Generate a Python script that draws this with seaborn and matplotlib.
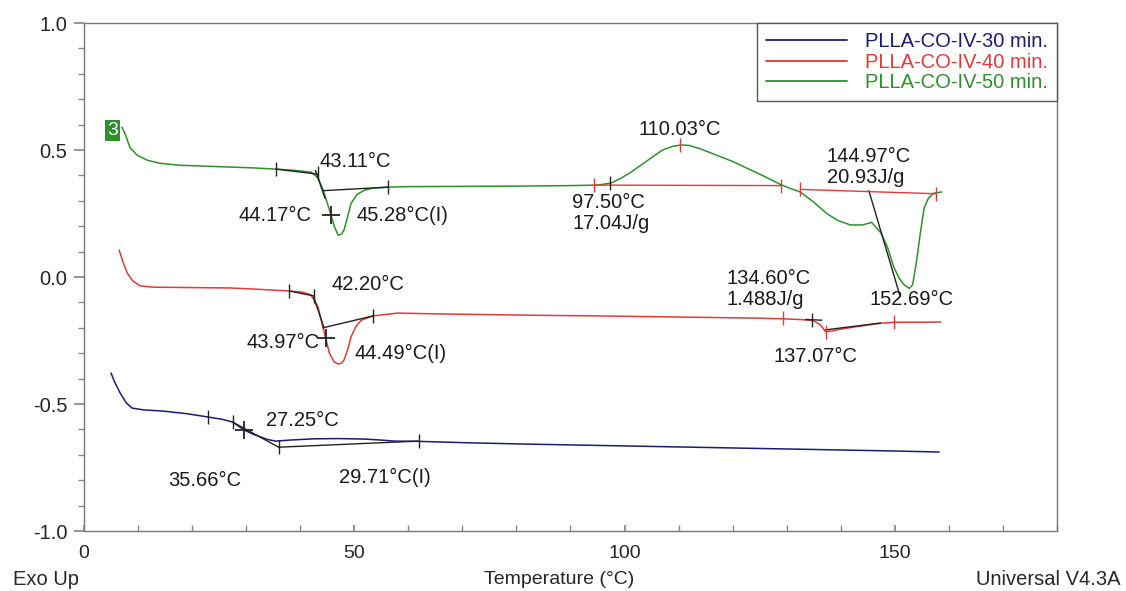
import numpy as np
import pandas as pd
import matplotlib
matplotlib.use('Agg')
import matplotlib.pyplot as plt
import seaborn as sns
from matplotlib.ticker import MultipleLocator
from matplotlib.lines import Line2D

sns.set_theme(style='white')
plt.rcParams['font.family'] = ['Liberation Sans', 'DejaVu Sans']

BLUE = '#1c1c6e'
RED = '#e03a3a'
GREEN = '#2f8f2f'
DARK = '#222222'

# ── Curve data ─────────────────────────────────────────────────────────────────
t50 = [7.0, 7.5, 8.5, 9.8, 11.7, 14, 17.8, 22, 27, 31, 35.5, 39, 42, 43.3, 44.2,
       45.4, 46.3, 47.0, 47.6, 48.1, 48.8, 49.4, 50.5, 51.9, 53.5, 56.3, 60, 70,
       80, 90, 95, 97.5, 99, 101, 103, 105, 107, 109, 110.5, 112, 114, 117, 120,
       123, 126, 128.8, 130.5, 132.5, 135, 137.4, 139.5, 141.8, 144, 145.7,
       147.4, 148.6, 149.8, 150.8, 151.7, 152.7, 153.3, 154, 154.7, 155.4,
       156.2, 157.2, 158.7]
hf50 = [0.59, 0.57, 0.51, 0.48, 0.46, 0.448, 0.44, 0.437, 0.433, 0.43, 0.425,
        0.42, 0.413, 0.39, 0.345, 0.265, 0.20, 0.165, 0.168, 0.185, 0.24, 0.29,
        0.325, 0.342, 0.35, 0.354, 0.356, 0.357, 0.358, 0.36, 0.362, 0.37, 0.385,
        0.41, 0.44, 0.47, 0.50, 0.515, 0.52, 0.518, 0.505, 0.48, 0.455, 0.425,
        0.395, 0.365, 0.35, 0.335, 0.295, 0.25, 0.222, 0.205, 0.205, 0.215,
        0.175, 0.12, 0.04, -0.005, -0.03, -0.045, -0.03, 0.06, 0.17, 0.27,
        0.31, 0.33, 0.335]

t40 = [6.5, 7.2, 8.0, 9.0, 10.4, 13, 17.8, 22, 27, 32, 38, 40.5, 42, 43.3, 44.2,
       45.4, 46.3, 47.0, 47.6, 48.1, 48.8, 49.4, 50.3, 51.3, 53.5, 58, 65, 75,
       85, 95, 105, 115, 125, 130, 133, 135, 136.3, 137.2, 138.5, 140, 143,
       147.4, 150, 155, 158.5]
hf40 = [0.106, 0.06, 0.016, -0.015, -0.035, -0.04, -0.041, -0.042, -0.043,
        -0.048, -0.055, -0.06, -0.07, -0.118, -0.197, -0.30, -0.335, -0.342,
        -0.34, -0.327, -0.285, -0.236, -0.195, -0.17, -0.153, -0.142, -0.145,
        -0.148, -0.151, -0.153, -0.156, -0.159, -0.162, -0.165, -0.168, -0.172,
        -0.19, -0.215, -0.212, -0.205, -0.195, -0.182, -0.178, -0.178, -0.177]

t30 = [5.0, 5.6, 6.7, 7.8, 8.9, 11, 14.7, 19, 22.9, 25.5, 27.5, 29.6, 31.2,
       32.7, 34, 35.5, 38, 42.6, 47, 51.9, 55, 57.4, 61.9, 70, 80, 90, 100,
       110, 120, 130, 140, 150, 158.2]
hf30 = [-0.378, -0.41, -0.457, -0.495, -0.516, -0.523, -0.528, -0.538, -0.551,
        -0.56, -0.571, -0.602, -0.618, -0.63, -0.64, -0.646, -0.642, -0.637,
        -0.636, -0.638, -0.642, -0.646, -0.647, -0.652, -0.657, -0.661, -0.665,
        -0.669, -0.673, -0.677, -0.681, -0.685, -0.689]

SAMPLES = ['PLLA-CO-IV-30 min.', 'PLLA-CO-IV-40 min.', 'PLLA-CO-IV-50 min.']

# analysis construction lines (tangents / baselines)
tangents_dark = [
    ([35.5, 43.3], [0.425, 0.405]), ([42.8, 44.6], [0.42, 0.31]),
    ([44.2, 56.3], [0.34, 0.354]), ([145.2, 150.9], [0.34, -0.07]),
    ([38.0, 42.6], [-0.055, -0.075]), ([42.5, 44.4], [-0.08, -0.2]),
    ([44.2, 53.5], [-0.2, -0.153]), ([133.5, 136.5], [-0.167, -0.170]),
    ([137.2, 147.4], [-0.208, -0.181]),
    ([27.5, 36.0], [-0.571, -0.67]), ([36.0, 61.9], [-0.67, -0.646]),
]
baselines_red = [([94.4, 129.0], [0.362, 0.36]), ([132.5, 157.6], [0.345, 0.328])]

# event marks
tick_dark_x = [35.5, 43.3, 56.3, 97.4, 38.0, 42.6, 53.5, 134.6, 22.9, 27.5, 36.0, 61.9]
tick_dark_y = [0.425, 0.41, 0.354, 0.37, -0.055, -0.075, -0.153, -0.17, -0.551, -0.571, -0.67, -0.646]
tick_red_x = [94.4, 110.2, 129.0, 132.5, 157.6, 129.4, 137.2, 149.8]
tick_red_y = [0.362, 0.52, 0.36, 0.345, 0.328, -0.163, -0.215, -0.178]
cross_x = [45.7, 44.7, 29.6]
cross_y = [0.245, -0.24, -0.602]

labels = [
    ('43.11°C', 43.5, 0.453, 'left'), ('44.17°C', 42.0, 0.244, 'right'),
    ('45.28°C(I)', 50.4, 0.244, 'left'), ('110.03°C', 110.2, 0.579, 'center'),
    ('97.50°C\n17.04J/g', 90.3, 0.252, 'left'),
    ('144.97°C\n20.93J/g', 137.4, 0.433, 'left'),
    ('152.69°C', 145.4, -0.09, 'left'), ('42.20°C', 45.7, -0.031, 'left'),
    ('43.97°C', 43.5, -0.256, 'right'), ('44.49°C(I)', 50.0, -0.30, 'left'),
    ('134.60°C\n1.488J/g', 118.8, -0.047, 'left'),
    ('137.07°C', 127.5, -0.311, 'left'), ('27.25°C', 33.6, -0.563, 'left'),
    ('35.66°C', 15.6, -0.80, 'left'), ('29.71°C(I)', 47.2, -0.79, 'left'),
]

df = pd.concat([
    pd.DataFrame({'T': t30, 'HF': hf30, 'sample': SAMPLES[0]}),
    pd.DataFrame({'T': t40, 'HF': hf40, 'sample': SAMPLES[1]}),
    pd.DataFrame({'T': t50, 'HF': hf50, 'sample': SAMPLES[2]}),
])

# ── Plot ──────────────────────────────────────────────────────────────────────
fig = plt.figure(figsize=(11.26, 5.91), dpi=100)
ax = fig.add_axes([0.0746, 0.1015, 0.8641, 0.8595])

palette = dict(zip(SAMPLES, [BLUE, RED, GREEN]))
sns.lineplot(data=df, x='T', y='HF', hue='sample', palette=palette,
             estimator=None, sort=False, linewidth=1.1, ax=ax, legend=False)

for xs, ys in tangents_dark:
    ax.plot(xs, ys, color=DARK, linewidth=1.0)
for xs, ys in baselines_red:
    ax.plot(xs, ys, color=RED, linewidth=1.0)
ax.plot(tick_dark_x, tick_dark_y, ls='none', marker='|', ms=10, mew=1.0, color=DARK)
ax.plot(tick_red_x, tick_red_y, ls='none', marker='|', ms=10, mew=1.0, color=RED)
ax.plot(cross_x, cross_y, ls='none', marker='+', ms=13, mew=1.3, color=DARK)

for txt, x, y, ha in labels:
    ax.text(x, y, txt, ha=ha, va='center', fontsize=14.5, color='#1a1a1a',
            linespacing=1.1)

ax.text(5.3, 0.578, '3', ha='center', va='center', fontsize=14, color='white',
        bbox=dict(boxstyle='square,pad=0.1', fc=GREEN, ec='none'))

ax.set_xlim(0, 180)
ax.set_ylim(-1.0, 1.0)
ax.set_xticks([0, 50, 100, 150])
ax.set_yticks([-1.0, -0.5, 0.0, 0.5, 1.0])
ax.set_yticklabels(['-1.0', '-0.5', '0.0', '0.5', '1.0'])
ax.xaxis.set_minor_locator(MultipleLocator(10))
ax.yaxis.set_minor_locator(MultipleLocator(0.1))
ax.tick_params(axis='x', which='both', direction='in', length=4, color='#888888',
               labelsize=14, pad=10, bottom=True)
ax.tick_params(axis='y', which='major', direction='out', length=7, color='#888888',
               labelsize=14.5, pad=5, left=True)
ax.tick_params(axis='y', which='minor', direction='out', length=4, color='#888888',
               left=True)
ax.set_xlabel('')
ax.set_ylabel('')
for s in ax.spines.values():
    s.set_color('#777777')
    s.set_linewidth(1.0)

handles = [Line2D([], [], color=c, linewidth=1.3) for c in [BLUE, RED, GREEN]]
leg = ax.legend(handles, SAMPLES, loc='upper right', bbox_to_anchor=(1, 1),
                borderaxespad=0, fancybox=False, framealpha=1, edgecolor='#555555',
                fontsize=14.5, handlelength=4.0, handletextpad=0.9,
                labelspacing=0.08, borderpad=0.45)
for t, c in zip(leg.get_texts(), [BLUE, RED, GREEN]):
    t.set_color(c)

fig.text(13 / 1126, 0.02, 'Exo Up', ha='left', va='center', fontsize=14.5)
fig.text(0.497, 0.02, 'Temperature (°C)', ha='center', va='center', fontsize=14)
fig.text(0.995, 0.02, 'Universal V4.3A', ha='right', va='center', fontsize=14.5)

fig.savefig('out.png', dpi=100)
plt.close(fig)
